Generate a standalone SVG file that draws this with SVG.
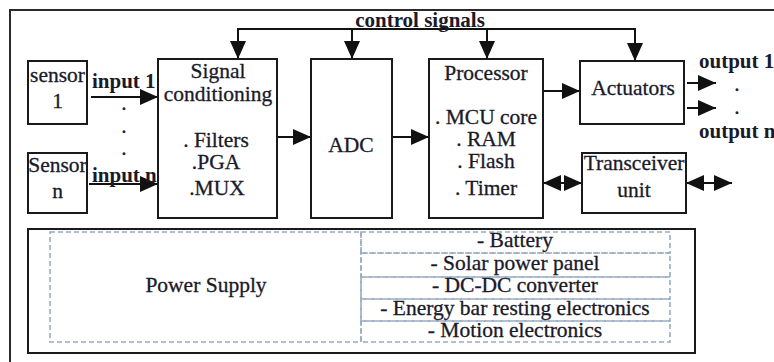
<svg xmlns="http://www.w3.org/2000/svg" width="774" height="362" viewBox="0 0 774 362">
<style>
.box{fill:#fff;stroke:#1a1a1a;stroke-width:2}
.frame{fill:none;stroke:#2a2a2a;stroke-width:2}
.dash{fill:none;stroke:#98acc4;stroke-width:1.6;stroke-dasharray:5 3}
.ln{fill:none;stroke:#111;stroke-width:2}
text{font-family:'Liberation Serif','DejaVu Serif',serif;font-size:21.5px;fill:#1a1a2a;stroke:#1a1a2a;stroke-width:0.3;text-anchor:middle}
.b{font-weight:bold;font-size:21px;stroke-width:0}
.s{text-anchor:start}
</style>
<defs>
<marker id="ah" markerUnits="userSpaceOnUse" markerWidth="18" markerHeight="16" refX="18" refY="8" orient="auto-start-reverse" viewBox="0 0 18 16">
<path d="M0,0 L18,8 L0,16 z" fill="#111"/>
</marker>
</defs>
<rect x="0" y="0" width="774" height="362" fill="#fff"/>
<rect class="frame" x="10" y="10" width="820" height="420"/>

<g id="connectors">
<polyline class="ln" points="238,44 238,29 635,29 635,45"/>
<line class="ln" x1="238" y1="40" x2="238" y2="59" marker-end="url(#ah)"/>
<line class="ln" x1="635" y1="40" x2="635" y2="61" marker-end="url(#ah)"/>
<line class="ln" x1="352" y1="29" x2="352" y2="59" marker-end="url(#ah)"/>
<line class="ln" x1="487" y1="29" x2="487" y2="59" marker-end="url(#ah)"/>
<line class="ln" x1="91" y1="97" x2="158" y2="97" marker-end="url(#ah)"/>
<line class="ln" x1="89" y1="184" x2="158" y2="184" marker-end="url(#ah)"/>
<line class="ln" x1="277" y1="137" x2="311" y2="137" marker-end="url(#ah)"/>
<line class="ln" x1="392" y1="137" x2="429" y2="137" marker-end="url(#ah)"/>
<line class="ln" x1="543" y1="91" x2="580" y2="91" marker-end="url(#ah)"/>
<line class="ln" x1="687" y1="83" x2="716" y2="83" marker-end="url(#ah)"/>
<line class="ln" x1="687" y1="108" x2="716" y2="108" marker-end="url(#ah)"/>
<line class="ln" x1="543" y1="183" x2="582" y2="183" marker-start="url(#ah)" marker-end="url(#ah)"/>
<line class="ln" x1="686" y1="183" x2="732" y2="183" marker-start="url(#ah)" marker-end="url(#ah)"/>
<text class="b" x="420" y="27">control signals</text>
<text class="b s" x="92" y="88">input 1</text>
<text class="b s" x="92" y="182">input n</text>
<text x="124" y="110">.</text>
<text x="124" y="133">.</text>
<text x="124" y="155">.</text>
<text class="b s" x="699" y="68">output 1</text>
<text x="737" y="91">.</text>
<text x="737" y="114">.</text>
<text class="b s" x="699" y="138">output n</text>
</g>

<g id="sensor1">
<rect class="box" x="28" y="61" width="59" height="63"/>
<text x="57.5" y="82">sensor</text>
<text x="57.5" y="108">1</text>
</g>
<g id="sensorn">
<rect class="box" x="28" y="153" width="59" height="60"/>
<text x="57.5" y="172">Sensor</text>
<text x="57.5" y="198">n</text>
</g>
<g id="signal-conditioning">
<rect class="box" x="158" y="59" width="119" height="159"/>
<text x="218" y="78">Signal</text>
<text x="218" y="101">conditioning</text>
<text x="216" y="147">. Filters</text>
<text x="216" y="169">.PGA</text>
<text x="217" y="195">.MUX</text>
</g>
<g id="adc">
<rect class="box" x="311" y="59" width="81" height="159"/>
<text x="351" y="152">ADC</text>
</g>
<g id="processor">
<rect class="box" x="429" y="59" width="114" height="159"/>
<text x="486" y="80">Processor</text>
<text x="486" y="124">. MCU core</text>
<text x="486" y="146">. RAM</text>
<text x="486" y="168">. Flash</text>
<text x="486" y="195">. Timer</text>
</g>
<g id="actuators">
<rect class="box" x="580" y="61" width="104" height="63"/>
<text x="633" y="95">Actuators</text>
</g>
<g id="transceiver">
<rect class="box" x="582" y="153" width="104" height="60"/>
<text x="634" y="170">Transceiver</text>
<text x="634" y="197">unit</text>
</g>
<g id="power-supply">
<rect class="box" x="28" y="229" width="667" height="124"/>
<rect class="dash" x="50" y="232" width="311" height="110"/>
<rect class="dash" x="361" y="232" width="309" height="21"/>
<rect class="dash" x="361" y="253" width="309" height="24"/>
<rect class="dash" x="361" y="277" width="309" height="22"/>
<rect class="dash" x="361" y="299" width="309" height="22"/>
<rect class="dash" x="361" y="321" width="309" height="21"/>
<text x="206" y="292">Power Supply</text>
<text x="515" y="247">- Battery</text>
<text x="515" y="270">- Solar power panel</text>
<text x="515" y="292">- DC-DC converter</text>
<text x="515" y="315">- Energy bar resting electronics</text>
<text x="515" y="337">- Motion electronics</text>
</g>
</svg>
